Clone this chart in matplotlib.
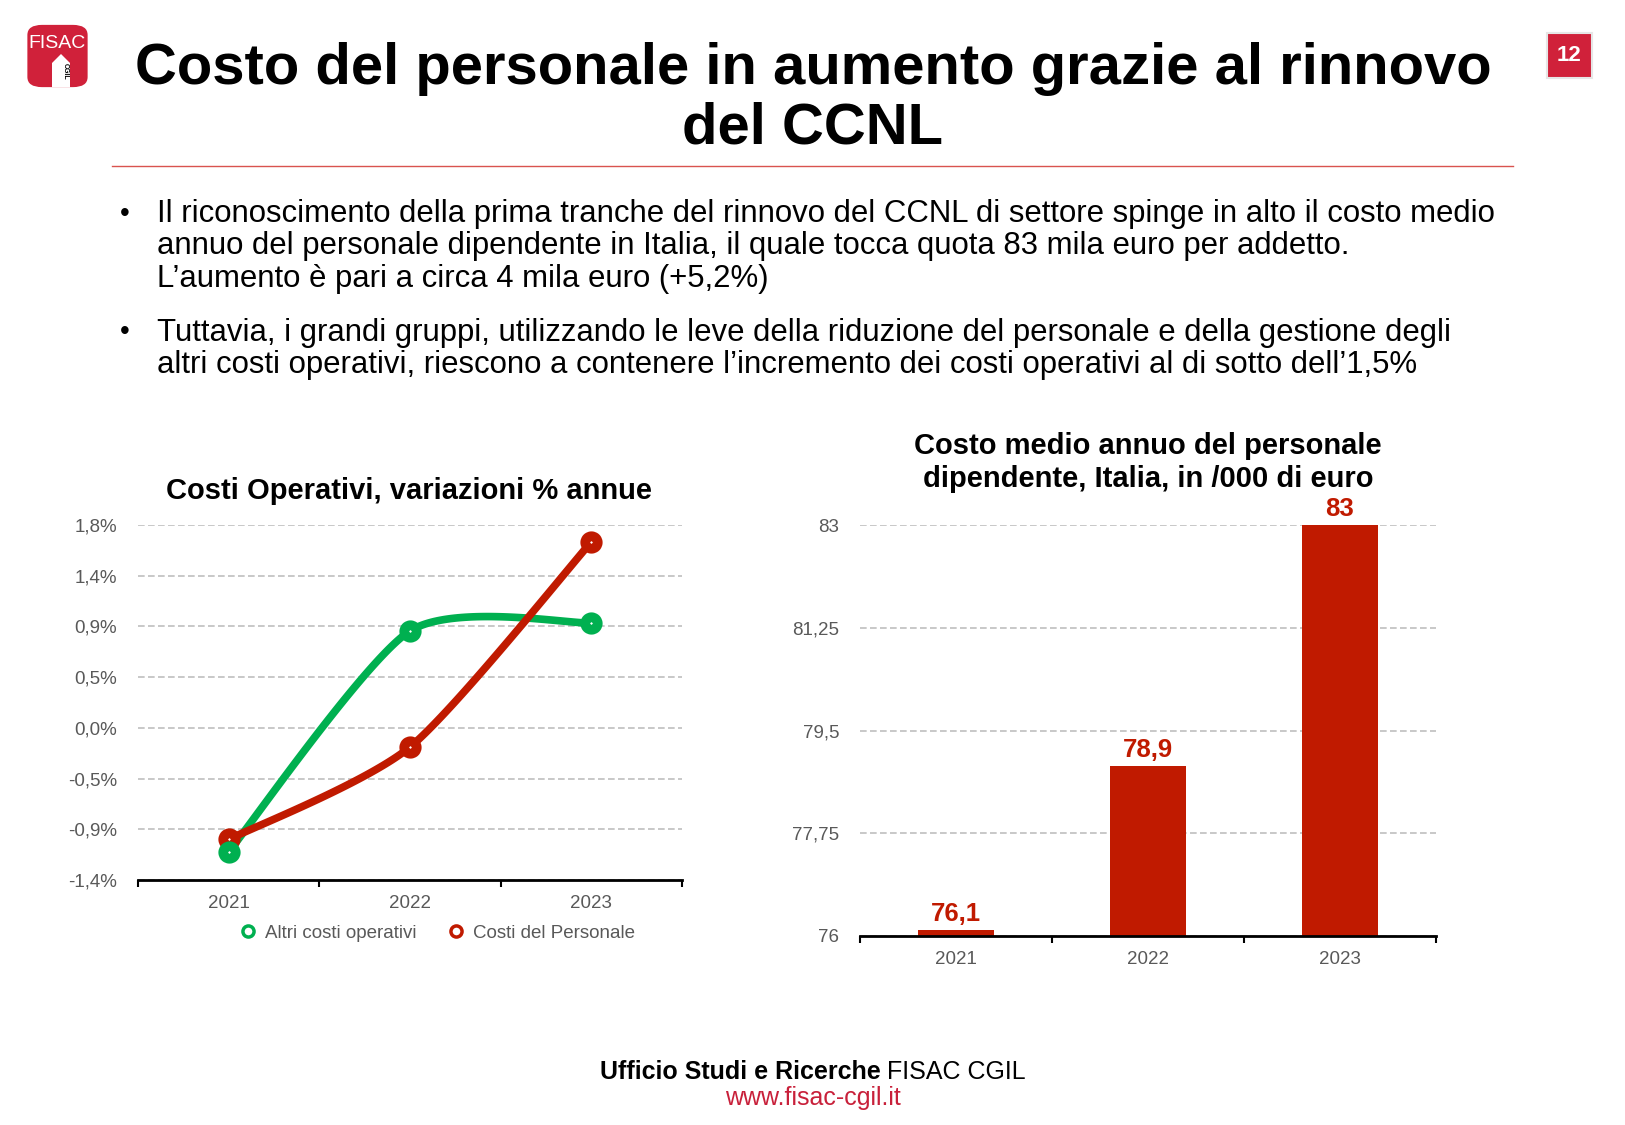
import matplotlib.pyplot as plt
import matplotlib.patches as mpatches
from matplotlib.lines import Line2D
import numpy as np

plt.rcParams['font.family'] = ['Liberation Sans', 'DejaVu Sans']

# dati
anni = ['2021', '2022', '2023']
altri_costi = [-1.10, 0.86, 0.93]      # variazione % annua
costi_personale = [-0.99, -0.17, 1.65]  # variazione % annua
y_ticks_sx = [-1.35, -0.9, -0.45, 0.0, 0.45, 0.9, 1.35, 1.8]
y_labels_sx = ['-1,4%', '-0,9%', '-0,5%', '0,0%', '0,5%', '0,9%', '1,4%', '1,8%']
costo_medio = [76.1, 78.9, 83.0]        # /000 euro
y_ticks_dx = [76, 77.75, 79.5, 81.25, 83]
y_labels_dx = ['76', '77,75', '79,5', '81,25', '83']
etichette_barre = ['76,1', '78,9', '83']

VERDE = '#00b050'
ROSSO = '#c01a00'
ROSSO_FISAC = '#d0213a'
GRIGIO = '#595959'

W, H = 1625, 1125
fig = plt.figure(figsize=(W / 100, H / 100), dpi=100)


def fx(px):
    return px / W


def fy(py):
    return 1 - py / H


def curva_smussata(xs, ys, k=0.12, n=60):
    # bezier simile allo smussamento di excel
    p = np.column_stack([xs, ys]).astype(float)
    out = []
    for i in range(len(p) - 1):
        p0 = p[i - 1] if i > 0 else p[i]
        p1, p2 = p[i], p[i + 1]
        p3 = p[i + 2] if i + 2 < len(p) else p[i + 1]
        c1 = p1 + (p2 - p0) * k
        c2 = p2 - (p3 - p1) * k
        t = np.linspace(0, 1, n)[:, None]
        seg = (1 - t) ** 3 * p1 + 3 * (1 - t) ** 2 * t * c1 + 3 * (1 - t) * t ** 2 * c2 + t ** 3 * p2
        out.append(seg)
    out = np.vstack(out)
    return out[:, 0], out[:, 1]


# ---- intestazione ----
fig.text(fx(813), fy(69), 'Costo del personale in aumento grazie al rinnovo',
         ha='center', va='center', fontsize=41.8, fontweight='bold')
fig.text(fx(813), fy(129), 'del CCNL', ha='center', va='center', fontsize=41.8, fontweight='bold')
fig.add_artist(Line2D([fx(112), fx(1513)], [fy(166), fy(166)], color='#d9534f', lw=1))

# logo
fig.add_artist(mpatches.FancyBboxPatch((fx(29), fy(86)), fx(57), 60 / H,
               boxstyle='round,pad=0.001,rounding_size=0.009', fc=ROSSO_FISAC, ec='none'))
fig.text(fx(57), fy(44), 'FISAC', ha='center', va='center', color='white', fontsize=14)
fig.add_artist(mpatches.Polygon([(fx(52), fy(87)), (fx(52), fy(63)), (fx(61), fy(54)),
                                 (fx(70), fy(63)), (fx(70), fy(87))],
                                closed=True, fc='white', ec='none'))
fig.text(fx(65), fy(71), 'CGIL', ha='center', va='center', rotation=-90, fontsize=5,
         fontweight='bold', color='black')

# numero pagina
fig.add_artist(mpatches.Rectangle((fx(1547), fy(78)), fx(45), 45 / H, fc=ROSSO_FISAC,
                                  ec='#e6e6e6', lw=1.5))
fig.text(fx(1569.5), fy(55.5), '12', ha='center', va='center', color='white',
         fontsize=16, fontweight='bold')

# punti elenco
righe = [
    (214, True, 'Il riconoscimento della prima tranche del rinnovo del CCNL di settore spinge in alto il costo medio'),
    (246, False, 'annuo del personale dipendente in Italia, il quale tocca quota 83 mila euro per addetto.'),
    (278.5, False, 'L\u2019aumento \u00e8 pari a circa 4 mila euro (+5,2%)'),
    (332.5, True, 'Tuttavia, i grandi gruppi, utilizzando le leve della riduzione del personale e della gestione degli'),
    (365, False, 'altri costi operativi, riescono a contenere l\u2019incremento dei costi operativi al di sotto dell\u20191,5%'),
]
for y, bullet, testo in righe:
    if bullet:
        fig.text(fx(125), fy(y), '\u2022', ha='center', va='center', fontsize=20)
    fig.text(fx(157), fy(y), testo, ha='left', va='center', fontsize=22.4)

# ---- grafico a sinistra ----
ax1 = fig.add_axes([fx(138), fy(880), fx(682) - fx(138), (880 - 525) / H])
xs = np.arange(len(anni))
# prima le linee (rosso sopra), poi i marcatori (verde sopra)
for serie, col in [(altri_costi, VERDE), (costi_personale, ROSSO)]:
    cx, cy = curva_smussata(xs, serie)
    ax1.plot(cx, cy, color=col, lw=5.5, solid_capstyle='round', zorder=3)
for serie, col in [(costi_personale, ROSSO), (altri_costi, VERDE)]:
    ax1.plot(xs, serie, 'o', ms=9, mfc='white', mec=col, mew=7, zorder=4)
ax1.set_xlim(-0.5, 2.5)
ax1.set_ylim(-1.35, 1.8)
ax1.set_yticks(y_ticks_sx)
ax1.set_yticklabels(y_labels_sx)
ax1.set_xticks(xs)
ax1.set_xticklabels(anni)
ax1.set_xticks([-0.5, 0.5, 1.5, 2.5], minor=True)
fig.text(fx(409), fy(491), 'Costi Operativi, variazioni % annue', ha='center', va='center',
         fontsize=21, fontweight='bold')

# ---- grafico a destra ----
ax2 = fig.add_axes([fx(860), fy(936), fx(1436) - fx(860), (936 - 525) / H])
ax2.bar(xs, [v - 76 for v in costo_medio], bottom=76, width=0.4, color=ROSSO, zorder=3)
for i, v in enumerate(costo_medio):
    ax2.text(i, v + 0.07, etichette_barre[i], ha='center', va='bottom', color=ROSSO,
             fontsize=18.5, fontweight='bold')
ax2.set_xlim(-0.5, 2.5)
ax2.set_ylim(76, 83)
ax2.set_yticks(y_ticks_dx)
ax2.set_yticklabels(y_labels_dx)
ax2.set_xticks(xs)
ax2.set_xticklabels(anni)
ax2.set_xticks([-0.5, 0.5, 1.5, 2.5], minor=True)
fig.text(fx(1148), fy(446), 'Costo medio annuo del personale', ha='center', va='center',
         fontsize=21, fontweight='bold')
fig.text(fx(1148), fy(479), 'dipendente, Italia, in /000 di euro', ha='center', va='center',
         fontsize=21, fontweight='bold')

for ax in (ax1, ax2):
    for s in ('top', 'right', 'left'):
        ax.spines[s].set_visible(False)
    ax.spines['bottom'].set_linewidth(2)
    ax.spines['bottom'].set_zorder(5)
    ax.grid(axis='y', ls=(0, (4, 2)), color='#bfbfbf', lw=1.2, zorder=0)
    ax.set_axisbelow(True)
    ax.tick_params(axis='y', length=0, pad=15, labelsize=13.5, labelcolor=GRIGIO)
    ax.tick_params(axis='x', which='major', length=0, pad=11, labelsize=13.5, labelcolor=GRIGIO)
    ax.tick_params(axis='x', which='minor', length=5, width=1.5, direction='out')

# legenda
handles = [Line2D([], [], ls='none', marker='o', ms=8, mfc='white', mec=VERDE, mew=2.5),
           Line2D([], [], ls='none', marker='o', ms=8, mfc='white', mec=ROSSO, mew=2.5)]
fig.legend(handles, ['Altri costi operativi', 'Costi del Personale'], loc='center',
           bbox_to_anchor=(fx(437), fy(933)), ncol=2, frameon=False, fontsize=13.5,
           labelcolor=GRIGIO, handletextpad=0.4, columnspacing=1.6, handlelength=1)

# piè di pagina
fig.text(fx(881), fy(1072), 'Ufficio Studi e Ricerche', ha='right', va='center',
         fontsize=18, fontweight='bold')
fig.text(fx(887), fy(1072), 'FISAC CGIL', ha='left', va='center', fontsize=18)
fig.text(fx(813), fy(1098), 'www.fisac-cgil.it', ha='center', va='center', fontsize=18,
         color='#c8203a')

fig.savefig('out.png', dpi=100, facecolor='white')
